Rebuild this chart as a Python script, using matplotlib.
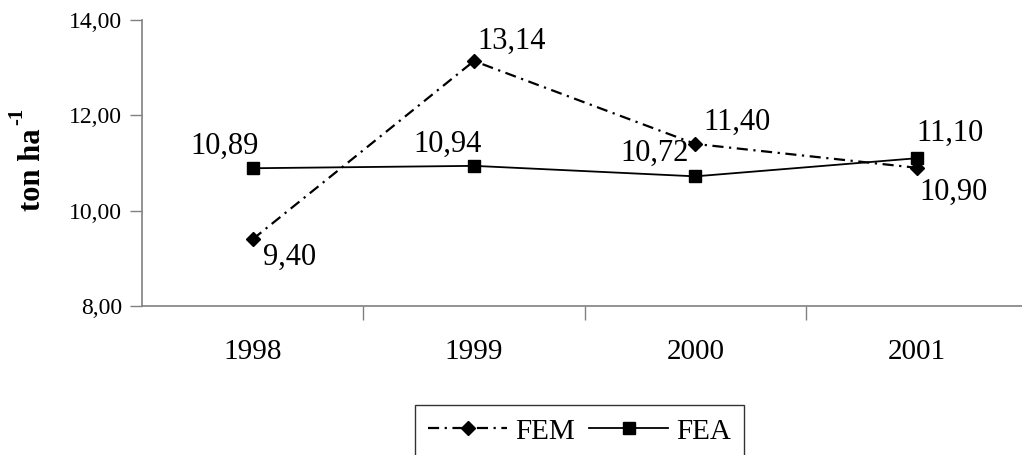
import matplotlib
matplotlib.use("Agg")
import matplotlib.pyplot as plt
from matplotlib.ticker import FixedLocator, FuncFormatter

# data
years = ["1998", "1999", "2000", "2001"]
fem = [9.40, 13.14, 11.40, 10.90]
fea = [10.89, 10.94, 10.72, 11.10]

# label offsets in pixels (dx, dy with y pointing down)
fem_offsets = [(37, 18), (38, -20), (42, -22), (37, 25)]
fea_offsets = [(-28, -22), (-26, -22), (-41, -23), (33, -25)]

plt.rcParams['font.family'] = ['Liberation Serif', 'DejaVu Serif']

fig = plt.figure(figsize=(10.22, 4.55), dpi=100)
ax = fig.add_axes([142 / 1022, 1 - 306 / 455, 1 - 142 / 1022, (306 - 20) / 455])

x = list(range(len(years)))
ax.plot(x, fem, color='black', lw=1.6, linestyle=(0, (5, 2.5, 1, 2.5)),
        marker='D', markersize=7, label='FEM')
ax.plot(x, fea, color='black', lw=1.3, linestyle='-',
        marker='s', markersize=8, label='FEA')

def fmt(v):
    return f"{v:.2f}".replace('.', ',')

for xi, v, (dx, dy) in zip(x, fem, fem_offsets):
    ax.annotate(fmt(v), (xi, v), xytext=(dx * 0.72, -dy * 0.72), textcoords='offset points',
                ha='center', va='center', fontsize=22)
for xi, v, (dx, dy) in zip(x, fea, fea_offsets):
    ax.annotate(fmt(v), (xi, v), xytext=(dx * 0.72, -dy * 0.72), textcoords='offset points',
                ha='center', va='center', fontsize=22)

ax.set_xlim(-0.5, 3.476)
ax.set_ylim(8, 14)
ax.set_yticks([8, 10, 12, 14])
ax.yaxis.set_major_formatter(FuncFormatter(lambda v, p: fmt(v)))
ax.tick_params(axis='y', direction='out', length=9, width=1, color='#808080',
               labelsize=17, pad=5.5)

ax.set_xticks(x)
ax.set_xticklabels(years)
ax.xaxis.set_minor_locator(FixedLocator([0.5, 1.5, 2.5]))
ax.tick_params(axis='x', which='major', length=0, labelsize=21, pad=24)
ax.tick_params(axis='x', which='minor', direction='out', length=10, width=1, color='#808080')

for s in ['top', 'right']:
    ax.spines[s].set_visible(False)
for s in ['left', 'bottom']:
    ax.spines[s].set_color('#808080')
    ax.spines[s].set_linewidth(1.2)

# y label with a hyphen superscript
fig.text(32 / 1022, 1 - 170 / 455, 'ton ha', rotation=90, ha='center', va='center',
         fontsize=22, fontweight='bold')
fig.text(17 / 1022, 1 - 116 / 455, '-1', rotation=90, ha='center', va='center',
         fontsize=15, fontweight='bold')

leg = fig.legend(loc='upper left', bbox_to_anchor=(415 / 1022, 1 - 405 / 455), ncol=2,
                 fontsize=21, frameon=True, fancybox=False, borderaxespad=0,
                 handlelength=2.7, handletextpad=0.28, columnspacing=0.5,
                 borderpad=0.45)
leg.get_frame().set_edgecolor('black')
leg.get_frame().set_linewidth(1.0)

fig.savefig("out.png", dpi=100)
